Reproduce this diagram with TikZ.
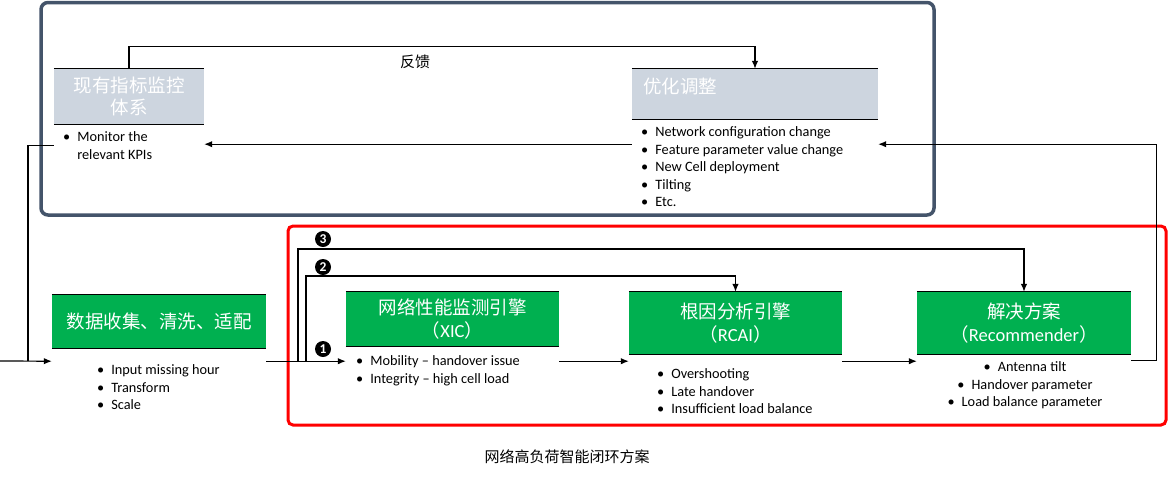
\documentclass[tikz,border=0pt]{standalone}
\usepackage{fontspec}
\setmainfont{Carlito}
\newfontfamily\cjk{Noto Sans CJK SC}
\usetikzlibrary{arrows.meta}
\definecolor{frameblue}{HTML}{44546A}
\definecolor{boxgreen}{HTML}{00B050}
\definecolor{boxgray}{HTML}{CDD5DF}
\definecolor{framered}{HTML}{FF0000}
\begin{document}
\begin{tikzpicture}[x=1pt,y=-1pt,
  conn/.style={line width=1.2pt, draw=black},
  arr/.style={conn, -{Latex[length=8pt,width=6.5pt]}},
  rule/.style={line width=1.2pt, draw=black},
  greenbox/.style={fill=boxgreen, text=white, inner sep=0pt, align=center,
    font=\cjk\fontsize{18.5}{23.5}\selectfont},
  graybox/.style={fill=boxgray, text=white, inner sep=0pt, align=center,
    font=\cjk\fontsize{18.5}{22}\selectfont},
  graytitle/.style={text=white, inner sep=0pt, font=\cjk\fontsize{18.5}{22}\selectfont},
  blist/.style={inner sep=0pt, align=left, anchor=north west, text=black,
    font=\fontsize{14.3}{17.5}\selectfont},
  numdot/.style={circle, fill=black, text=white, inner sep=0pt, minimum size=16pt,
    font=\bfseries\fontsize{13.5}{14}\selectfont},
  cjklabel/.style={inner sep=0pt, text=black, font=\cjk\fontsize{15}{18}\selectfont}]
\useasboundingbox (0,0) rectangle (1169,483);
\fill[white] (0,0) rectangle (1169,483);

% frames
\draw[frameblue, line width=3.5pt, rounded corners=7pt] (41,2.5) rectangle (934,215);
\draw[framered, line width=3pt, rounded corners=5pt] (288,226) rectangle (1166,425);

% top boxes
\node[graybox, minimum width=150pt, minimum height=55pt] (monbox) at (129,96.5) {现有指标监控\\体系};
\node[graybox, minimum width=246pt, minimum height=50pt] (optbox) at (755,94) {};
\node[graytitle, anchor=west] (opttitle) at (643,86) {优化调整};

\node[blist] (monlist) at (63,131.5) {\textbullet\hspace{7pt}Monitor the\\\phantom{\textbullet\hspace{7pt}}relevant KPIs};
\node[blist] (optlist) at (641,126.5) {\textbullet\hspace{7pt}Network configuration change\\\textbullet\hspace{7pt}Feature parameter value change\\\textbullet\hspace{7pt}New Cell deployment\\\textbullet\hspace{7pt}Tilting\\\textbullet\hspace{7pt}Etc.};

\node[cjklabel] (fb) at (415,62) {反馈};

% bottom boxes
\node[greenbox, minimum width=214pt, minimum height=53pt] (data) at (159,321.5) {数据收集、清洗、适配};
\node[greenbox, minimum width=213pt, minimum height=54pt] (xic) at (452.5,319) {网络性能监测引擎\\（\rmfamily XIC\cjk）};
\node[greenbox, minimum width=213pt, minimum height=62pt] (rca) at (735.5,323) {根因分析引擎\\（\rmfamily RCAI\cjk）};
\node[greenbox, minimum width=214pt, minimum height=62pt] (rec) at (1024,323) {解决方案\\（\rmfamily Recommender\cjk）};

\foreach \n in {monbox,optbox,data,xic,rca,rec}{
  \draw[rule] (\n.north west) -- (\n.north east) (\n.south west) -- (\n.south east);
}

\node[blist] (datalist) at (97,364.5) {\textbullet\hspace{7pt}Input missing hour\\\textbullet\hspace{7pt}Transform\\\textbullet\hspace{7pt}Scale};
\node[blist] (xiclist) at (356,355.5) {\textbullet\hspace{7pt}Mobility – handover issue\\\textbullet\hspace{7pt}Integrity – high cell load};
\node[blist] (rcalist) at (657,368.5) {\textbullet\hspace{7pt}Overshooting\\\textbullet\hspace{7pt}Late handover\\\textbullet\hspace{7pt}Insufficient load balance};
\node[blist, anchor=north, align=center] (reclist) at (1025,361.5) {\textbullet\hspace{7pt}Antenna tilt\\\textbullet\hspace{7pt}Handover parameter\\\textbullet\hspace{7pt}Load balance parameter};

% markers
\node[numdot] (n3) at (323,239) {3};
\node[numdot] (n2) at (323,267) {2};
\node[numdot] (n1) at (323,349) {1};

% caption
\node[cjklabel] (caption) at (567,457) {网络高负荷智能闭环方案};

% connectors
\coordinate (lin) at (0,361);
\coordinate (jn) at (28,361);
\coordinate (b3) at (298,361);
\coordinate (b2) at (306,361);

\draw[arr] (lin) -- ([yshift=-13pt]data.south west);
\draw[conn] ([yshift=-21pt]monbox.south west) -| (jn);
\draw[arr] (monbox.north) -- ++(0,-22) -| (optbox.north);
\draw[arr] ([yshift=-25pt]optbox.south west) -- ([yshift=-20pt]monbox.south east);
\draw[arr] ([yshift=-6pt]rec.south east) -- ++(25,0) |- ([yshift=-25pt]optbox.south east);
\draw[arr] ([yshift=-13pt]data.south east) -- ([yshift=-15pt]xic.south west);
\draw[arr] ([yshift=-15pt]xic.south east) -- ([yshift=-7pt]rca.south west);
\draw[arr] ([yshift=-7pt]rca.south east) -- ([yshift=-7pt]rec.south west);
\draw[arr] (b3) -- ++(0,-112) -| (rec.north);
\draw[arr] (b2) -- ++(0,-85) -| (rca.north);
\end{tikzpicture}
\end{document}
